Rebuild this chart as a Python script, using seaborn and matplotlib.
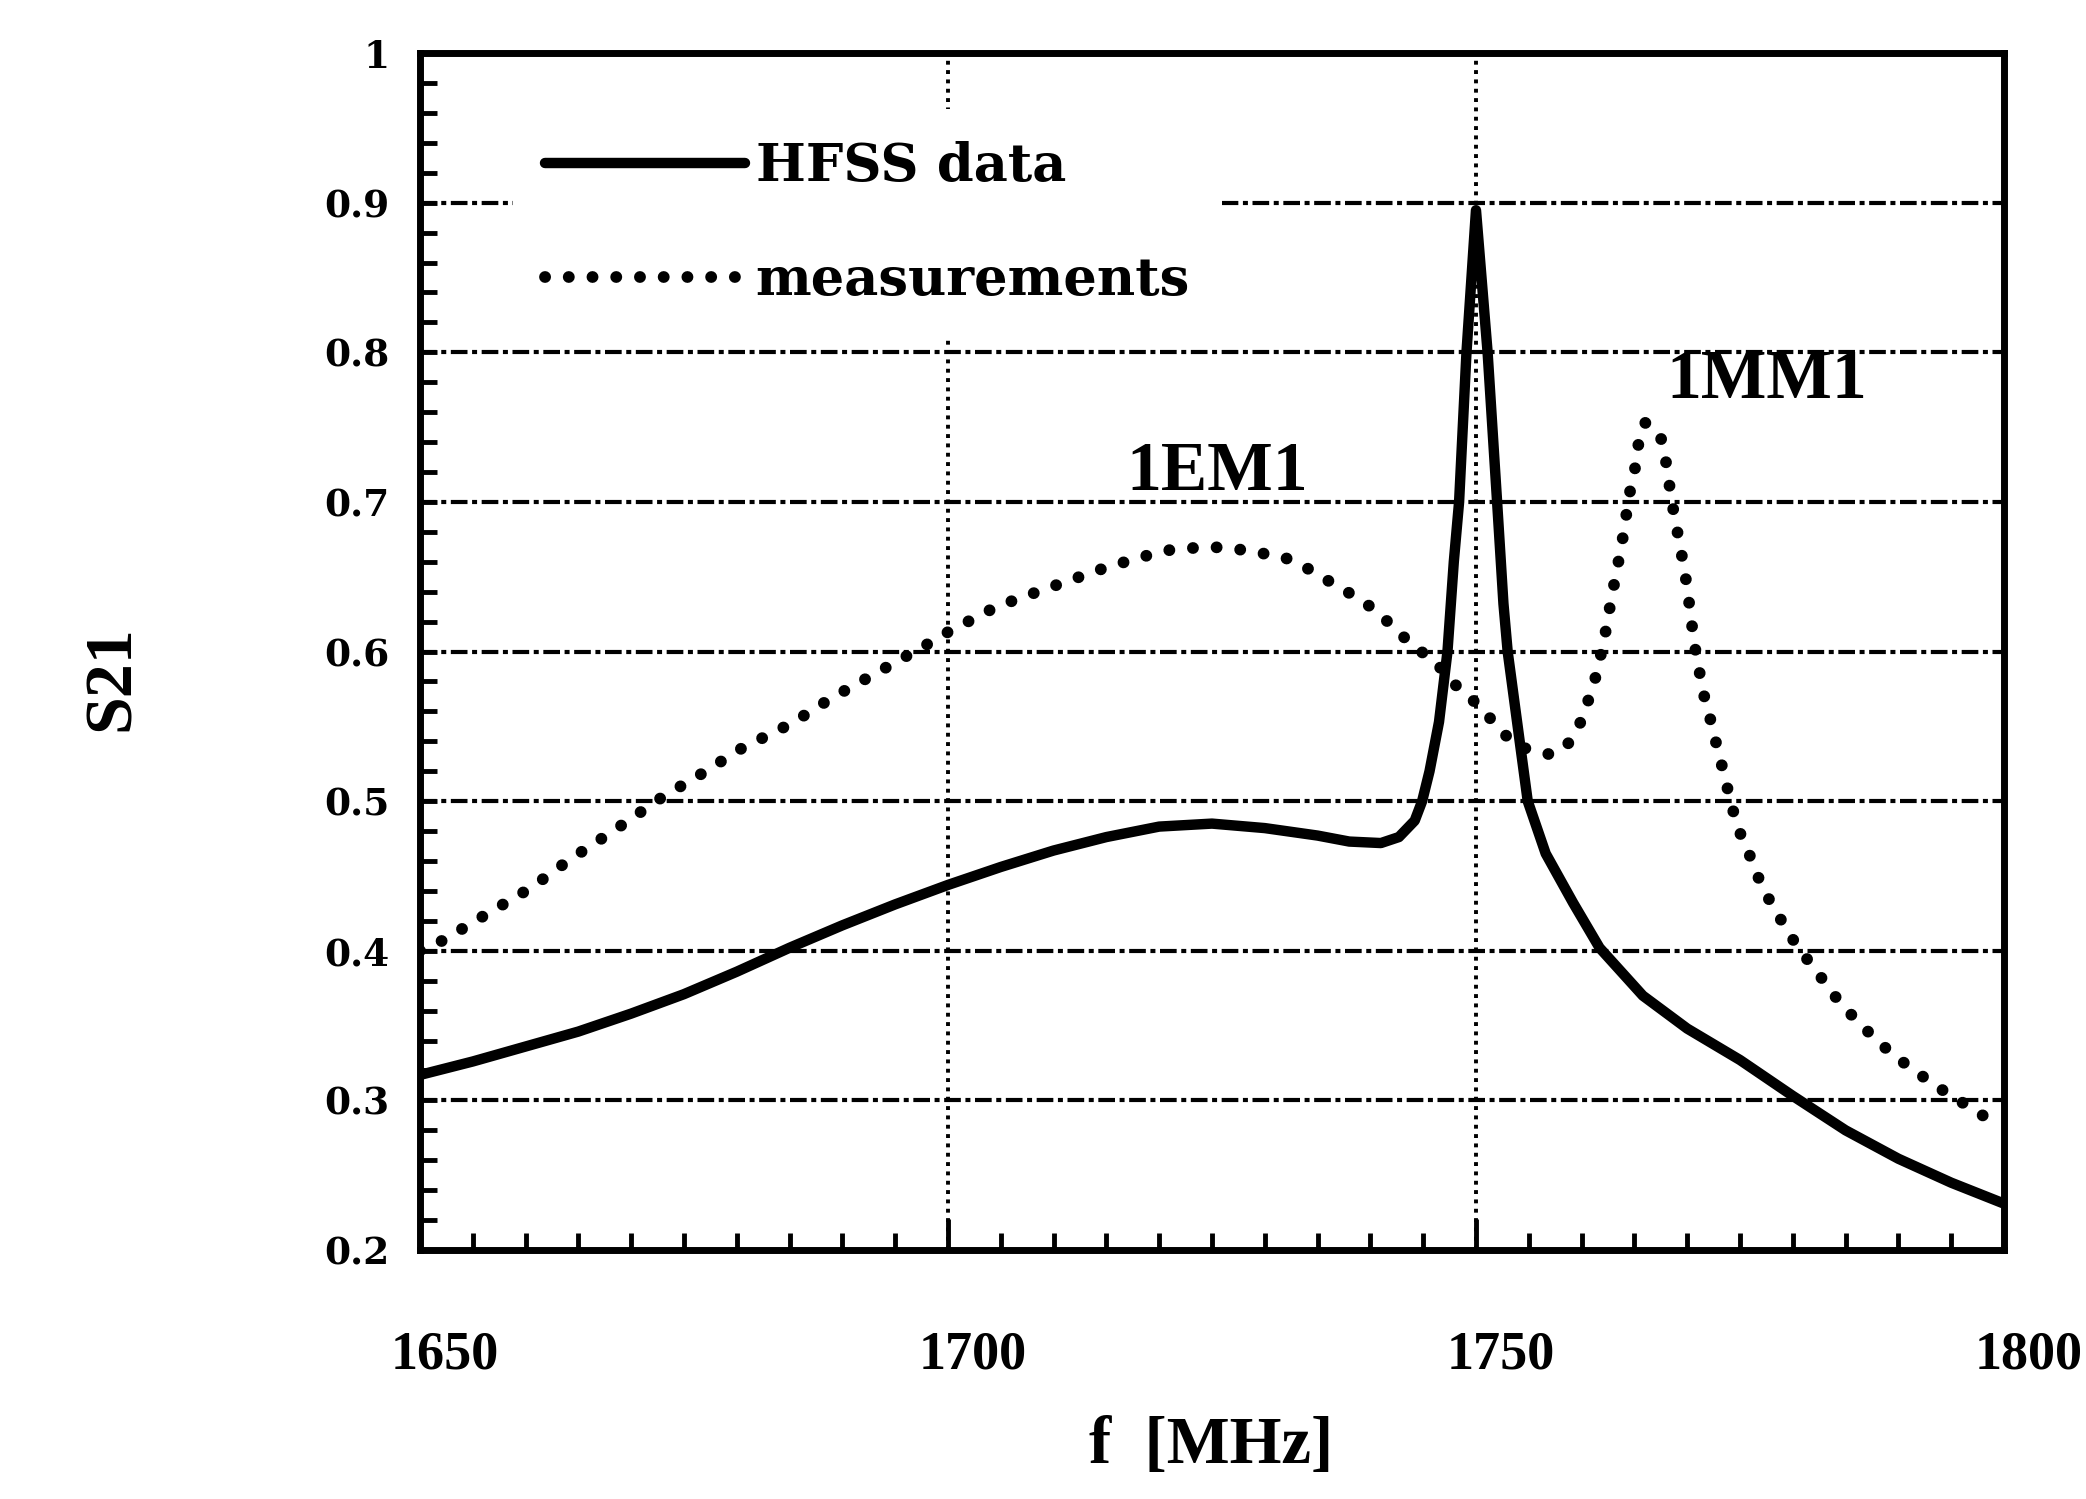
import matplotlib
matplotlib.use("Agg")
import matplotlib.pyplot as plt
import matplotlib.transforms as mtransforms
import numpy as np
import pandas as pd
import seaborn as sns
from matplotlib.ticker import FixedLocator, FixedFormatter, MultipleLocator

# ---------------- data ----------------
hfss_f = [1650, 1655, 1660, 1665, 1670, 1675, 1680, 1685, 1690, 1695, 1700,
          1705, 1710, 1715, 1720, 1725, 1730, 1735, 1738, 1741, 1742.7,
          1744.2, 1744.9, 1745.6, 1746.5, 1747.3, 1747.9, 1748.4, 1749.1,
          1750, 1751.1, 1752.0, 1752.6, 1753.0, 1754.1, 1754.9, 1756.6,
          1759.2, 1761.7, 1765.8, 1770, 1775, 1780, 1785, 1790, 1795, 1800]
hfss_s21 = [0.317, 0.326, 0.336, 0.346, 0.358, 0.371, 0.386, 0.402, 0.417,
            0.431, 0.444, 0.456, 0.467, 0.476, 0.483, 0.485, 0.482, 0.477,
            0.473, 0.472, 0.476, 0.487, 0.500, 0.520, 0.553, 0.600, 0.660,
            0.700, 0.800, 0.895, 0.800, 0.700, 0.632, 0.600, 0.542, 0.500,
            0.465, 0.432, 0.402, 0.370, 0.348, 0.327, 0.303, 0.280, 0.261,
            0.245, 0.231]

meas_f = [1650, 1652.2, 1656.2, 1660.5, 1664.2, 1668.5, 1672.8, 1676.6, 1680.4,
          1685.2, 1689, 1693.3, 1697.6, 1700, 1704.6, 1708.9, 1714.5, 1718.2,
          1721.1, 1724.6, 1727, 1729.3, 1731.5, 1733.7, 1735.6, 1737.8, 1740,
          1741.8, 1744, 1746.2, 1747.5, 1749.5, 1751, 1753.6, 1755.2, 1757.2,
          1758.8, 1760, 1760.9, 1761.5, 1762, 1762.5, 1762.8, 1763.3, 1763.7,
          1764.1, 1764.4, 1765.0, 1765.2, 1766.0, 1767.4, 1767.9, 1768.3,
          1768.6, 1769.1, 1769.6, 1770.0, 1770.4, 1770.8, 1771.2, 1771.7,
          1772.3, 1772.9, 1773.5, 1774.1, 1774.8, 1775.8, 1776.6, 1777.7,
          1779.1, 1780.5, 1782.3, 1783.7, 1785.3, 1787.4, 1789.4, 1791.5,
          1793.7, 1795.5, 1798.2, 1799.5]
meas_s21 = [0.400, 0.407, 0.424, 0.442, 0.461, 0.481, 0.502, 0.518, 0.535,
            0.552, 0.569, 0.586, 0.603, 0.613, 0.630, 0.641, 0.655, 0.663,
            0.668, 0.670, 0.669, 0.666, 0.664, 0.657, 0.649, 0.640, 0.630,
            0.619, 0.604, 0.593, 0.581, 0.569, 0.558, 0.538, 0.534, 0.531,
            0.539, 0.554, 0.573, 0.587, 0.604, 0.621, 0.636, 0.652, 0.669,
            0.683, 0.702, 0.718, 0.734, 0.753, 0.746, 0.731, 0.712,
            0.698, 0.679, 0.660, 0.643, 0.620, 0.600, 0.585, 0.567,
            0.552, 0.534, 0.518, 0.500, 0.482, 0.466, 0.451, 0.435,
            0.418, 0.402, 0.386, 0.372, 0.359, 0.344, 0.331, 0.320,
            0.309, 0.301, 0.289, 0.285]

series_labels = ["HFSS data", "measurements"]
x_ticks = [1650, 1700, 1750, 1800]
x_tick_labels = ["1650", "1700", "1750", "1800"]
y_ticks = [0.2, 0.3, 0.4, 0.5, 0.6, 0.7, 0.8, 0.9, 1.0]
y_tick_labels = ["0.2", "0.3", "0.4", "0.5", "0.6", "0.7", "0.8", "0.9", "1"]
annot_text = ["1EM1", "1MM1"]
annot_f = [1725.5, 1777.5]
annot_s = [0.719, 0.781]
x_label = "f  [MHz]"
y_label = "S21"

# ---------------- style ----------------
sns.set_theme(style="white")
plt.rcParams["font.family"] = ["DejaVu Serif"]
plt.rcParams["font.weight"] = "bold"
plt.rcParams["text.color"] = "black"
plt.rcParams["axes.labelcolor"] = "black"
plt.rcParams["xtick.color"] = "black"
plt.rcParams["ytick.color"] = "black"

fig = plt.figure(figsize=(20.86, 14.99), dpi=100)
ax = fig.add_axes([0.2013, 0.1661, 0.7594, 0.7985])

df_h = pd.DataFrame({"f": hfss_f, "S21": hfss_s21})
df_m = pd.DataFrame({"f": meas_f, "S21": meas_s21})

sns.lineplot(data=df_h, x="f", y="S21", ax=ax, color="black", estimator=None,
             sort=False, label=series_labels[0])
sns.lineplot(data=df_m, x="f", y="S21", ax=ax, color="black", estimator=None,
             sort=False, label=series_labels[1])

l_h, l_m = ax.lines[0], ax.lines[1]
l_h.set_linewidth(7.5)
l_h.set_linestyle("-")
l_h.set_solid_joinstyle("round")
l_h.set_solid_capstyle("round")
l_m.set_linewidth(8.5)
l_m.set_linestyle((0, (0.01, 2.0)))
l_m.set_dash_capstyle("round")

ax.set_xlim(1650, 1800)
ax.set_ylim(0.2, 1.0)

ax.xaxis.set_major_locator(FixedLocator(x_ticks))
ax.xaxis.set_major_formatter(FixedFormatter(x_tick_labels))
ax.xaxis.set_minor_locator(MultipleLocator(5))
ax.yaxis.set_major_locator(FixedLocator(y_ticks))
ax.yaxis.set_major_formatter(FixedFormatter(y_tick_labels))
ax.yaxis.set_minor_locator(MultipleLocator(0.02))

ax.tick_params(axis="x", which="major", direction="in", length=22, width=3.5,
               pad=58, labelsize=39, colors="black", bottom=True, top=False)
ax.tick_params(axis="x", which="minor", direction="in", length=12, width=3.5,
               bottom=True, top=False)
ax.tick_params(axis="y", which="major", direction="in", length=12, width=3.5,
               pad=22, labelsize=27, colors="black", left=True, right=False)
ax.tick_params(axis="y", which="minor", direction="in", length=12, width=3.5,
               left=True, right=False)

shift = mtransforms.ScaledTranslation(0.25, 0, fig.dpi_scale_trans)
for lab in ax.get_xticklabels():
    lab.set_fontweight("bold")
    lab.set_family("Liberation Serif")
    lab.set_transform(lab.get_transform() + shift)
for lab in ax.get_yticklabels():
    lab.set_fontweight("bold")

ax.set_axisbelow(True)
ax.yaxis.grid(True, which="major", color="black", linewidth=3.0,
              linestyle=(0, (4, 1.1, 1.2, 1.1)))
ax.xaxis.grid(True, which="major", color="black", linewidth=2.8,
              linestyle=(0, (1, 1.4)))

for sp in ax.spines.values():
    sp.set_visible(True)
    sp.set_color("black")
    sp.set_linewidth(5)

ax.set_xlabel("")
ax.set_ylabel("")

for t, fx, sy in zip(annot_text, annot_f, annot_s):
    ax.text(fx, sy, t, ha="center", va="center", fontsize=50,
            fontweight="bold", color="black", family="Liberation Serif")

leg = ax.legend(loc="upper left", bbox_to_anchor=(0.0587, 0.953),
                borderaxespad=0, frameon=True, handlelength=3.8,
                handletextpad=0.2, labelspacing=1.2, borderpad=0.6,
                prop={"family": "DejaVu Serif", "weight": "bold", "size": 38})
for txt in leg.get_texts():
    txt.set_color("black")
frame = leg.get_frame()
frame.set_facecolor("white")
frame.set_edgecolor("none")
frame.set_alpha(1)
frame.set_boxstyle("square", pad=0)

fig.text(112 / 2086, 1 - 678 / 1499, y_label, rotation=90, ha="center",
         va="center", fontsize=49, fontweight="bold", color="black",
         family="Liberation Serif")
fig.text(1211 / 2086, 1 - 1447 / 1499, x_label, ha="center", va="center",
         fontsize=48, fontweight="bold", color="black",
         family="Liberation Serif")

fig.savefig("out.png", dpi=100, facecolor="white")
